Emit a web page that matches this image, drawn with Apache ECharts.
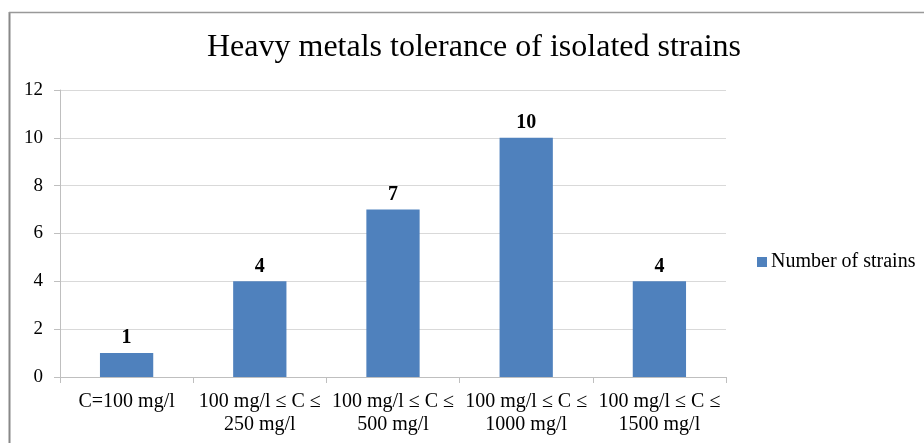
<!DOCTYPE html>
<html><head><meta charset="utf-8">
<script src="https://cdn.jsdelivr.net/npm/echarts@6/dist/echarts.min.js"></script>
<style>html,body{margin:0;padding:0;background:#fff}#c{width:924px;height:443px}</style>
</head><body><div id="c"></div>
<script>
const categories = ['C=100 mg/l', '100 mg/l ≤ C ≤\n250 mg/l', '100 mg/l ≤ C ≤\n500 mg/l', '100 mg/l ≤ C ≤\n1000 mg/l', '100 mg/l ≤ C ≤\n1500 mg/l'];
const strains = [1, 4, 7, 10, 4];
const seriesName = 'Number of strains';
const titleText = 'Heavy metals tolerance of isolated strains';

const F = 'Liberation Serif, Times New Roman, serif';
const chart = echarts.init(document.getElementById('c'), null, {renderer: 'canvas'});
chart.setOption({
  animation: false,
  textStyle: {fontFamily: F},
  title: {text: titleText, left: 469, textAlign: 'center', top: 27,
    textStyle: {fontFamily: F, fontSize: 32, fontWeight: 'normal', color: '#000'}},
  legend: {left: 752, top: 247, itemWidth: 10, itemHeight: 10, itemGap: 4,
    data: [{name: seriesName, icon: 'rect'}],
    textStyle: {fontFamily: F, fontSize: 20, color: '#000', padding: [0,0,0,-1]}},
  graphic: [
    {type: 'line', shape: {x1: 9.5, y1: 12, x2: 9.5, y2: 443}, style: {stroke: '#888', lineWidth: 2}},
    {type: 'line', shape: {x1: 9, y1: 12.5, x2: 924, y2: 12.5}, style: {stroke: '#999', lineWidth: 1.5}}
  ],
  grid: {left: 60, right: 198, top: 90, bottom: 66},
  xAxis: {type: 'category', data: categories,
    axisLine: {lineStyle: {color: '#bfbfbf'}},
    axisTick: {show: true, length: 6, lineStyle: {color: '#bfbfbf'}},
    axisLabel: {interval: 0, fontFamily: F, fontSize: 20, color: '#000', lineHeight: 23, margin: 13}},
  yAxis: {type: 'value', min: 0, max: 12, interval: 2,
    axisLine: {show: true, lineStyle: {color: '#bfbfbf'}},
    axisTick: {show: true, length: 6, lineStyle: {color: '#bfbfbf'}},
    splitLine: {lineStyle: {color: '#d9d9d9'}},
    axisLabel: {fontFamily: F, fontSize: 19, color: '#000', margin: 17}},
  series: [{name: seriesName, type: 'bar', data: strains, barWidth: '40%',
    itemStyle: {color: '#4f81bd'},
    label: {show: true, position: 'top', distance: 5, fontFamily: F, fontSize: 20, fontWeight: 'bold', color: '#000'}}]
});
</script></body></html>
